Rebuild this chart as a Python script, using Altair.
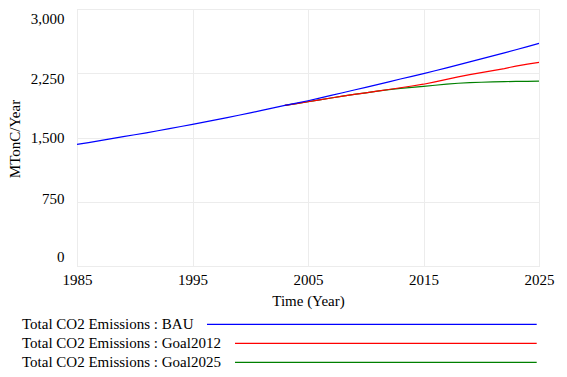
import altair as alt
import pandas as pd

years = list(range(1985, 2026))
bau = [1419, 1441, 1464, 1487, 1510, 1532, 1555, 1579, 1603, 1628,
       1654, 1680, 1706, 1733, 1760, 1788, 1816, 1845, 1874, 1901,
       1929, 1960, 1991, 2022, 2054, 2086, 2118, 2150, 2183, 2214,
       2245, 2279, 2313, 2347, 2382, 2417, 2452, 2488, 2524, 2561, 2598]

goal_years = list(range(2003, 2026))
goal2012 = [1874, 1895, 1917, 1939, 1961, 1984, 2003, 2022, 2041, 2060,
            2081, 2101, 2122, 2150, 2178, 2207, 2233, 2257, 2281, 2305,
            2334, 2357, 2378]
goal2025 = [1874, 1895, 1917, 1939, 1961, 1984, 2003, 2022, 2041, 2058,
            2074, 2086, 2097, 2110, 2122, 2133, 2140, 2145, 2149, 2152,
            2155, 2156, 2157]

series_names = ["Total CO2 Emissions : BAU",
                "Total CO2 Emissions : Goal2012",
                "Total CO2 Emissions : Goal2025"]
series_colors = ["#0000ff", "#ff0000", "#008000"]

x_ticks = [1985, 1995, 2005, 2015, 2025]
y_ticks = [0, 750, 1500, 2250, 3000]

FONT = "Liberation Serif"
FS = 15
W, H = 462, 257

df_bau = pd.DataFrame({"year": years, "value": bau})
df_g12 = pd.DataFrame({"year": goal_years, "value": goal2012})
df_g25 = pd.DataFrame({"year": goal_years, "value": goal2025})

common = dict(grid=True, ticks=False, domain=False,
              labelFont=FONT, labelFontSize=FS, labelColor="black",
              titleFont=FONT, titleFontSize=FS, titleColor="black",
              titleFontWeight="normal", gridColor="#ececec", gridWidth=1)

xenc = alt.X("year:Q", scale=alt.Scale(domain=[1985, 2025], nice=False, zero=False),
             axis=alt.Axis(values=x_ticks, format="d", title="Time (Year)",
                           labelPadding=6, labelFlush=False,
                           titleX=W / 2, titleY=34, titleBaseline="middle",
                           **common))
yenc = alt.Y("value:Q", scale=alt.Scale(domain=[0, 3000], nice=False),
             axis=alt.Axis(values=y_ticks, format=",d", title="MTonC/Year",
                           labelPadding=13, labelFlush=False,
                           labelOffset={"condition": [
                               {"test": "datum.value == 3000", "value": 9.4},
                               {"test": "datum.value == 2250", "value": 5.7},
                               {"test": "datum.value == 750", "value": -3.7},
                               {"test": "datum.value == 0", "value": -9.4}],
                               "value": 0},
                           titleX=-63, titleY=129.5, titleBaseline="middle",
                           titleAlign="center", **common))

def line(df, color):
    return alt.Chart(df).mark_line(color=color, strokeWidth=1.2).encode(x=xenc, y=yenc)

layers = [line(df_g25, series_colors[2]), line(df_g12, series_colors[1]),
          line(df_bau, series_colors[0])]

line_starts = [130, 158, 158]
for i, (name, col) in enumerate(zip(series_names, series_colors)):
    ldf = pd.DataFrame({"name": [name]})
    yy = 315.3 + 19 * i
    layers.append(alt.Chart(ldf).mark_text(align="left", baseline="middle",
                                           font=FONT, fontSize=FS, color="black").encode(
        x=alt.value(-55), y=alt.value(yy), text="name:N"))
    layers.append(alt.Chart(ldf).mark_rule(color=col, strokeWidth=1.3).encode(
        x=alt.value(line_starts[i]), x2=alt.value(459.7), y=alt.value(yy)))

chart = alt.layer(*layers).properties(
    width=W, height=H,
    autosize=alt.AutoSizeParams(type="none"),
    padding={"left": 69, "top": 1, "right": 16, "bottom": 103},
).configure_view(stroke="#e8e8e8", strokeWidth=2).configure(background="white")

chart.save("out.html", embed_options={"renderer": "svg", "actions": False})
